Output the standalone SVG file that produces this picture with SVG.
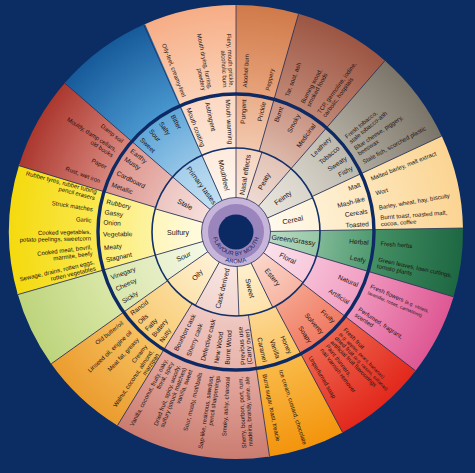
<svg xmlns="http://www.w3.org/2000/svg" width="475" height="473" viewBox="0 0 475 473">
<defs>
<style>
text{font-family:"Liberation Sans",Arial,sans-serif;fill:#1e1210}
.o{font-size:6px}.m{font-size:6.6px}.i{font-size:7.1px;text-anchor:middle}
.or{text-anchor:start}.ol{text-anchor:end}.mr{text-anchor:end}.ml{text-anchor:start}
.s{font-size:4.8px}
.ring{fill:none;stroke-width:143}.iring{fill:none;stroke-width:54}
.dv{stroke:#2b3158;stroke-width:0.8}
.hub{font-size:5.8px;fill:#14204f;letter-spacing:0.2px}
</style>
<radialGradient id="g-mouth" gradientUnits="userSpaceOnUse" cx="236" cy="232" r="227"><stop offset="0.13" stop-color="#fef6ef"/><stop offset="0.37" stop-color="#fdebdd"/><stop offset="0.372" stop-color="#fde6d6"/><stop offset="0.605" stop-color="#fcd8c2"/><stop offset="0.61" stop-color="#fbd2b7"/><stop offset="1" stop-color="#f6ad86"/></radialGradient>
<radialGradient id="g-nasal" gradientUnits="userSpaceOnUse" cx="236" cy="232" r="227"><stop offset="0.13" stop-color="#f9e7da"/><stop offset="0.37" stop-color="#f5d3be"/><stop offset="0.372" stop-color="#f2c8ae"/><stop offset="0.605" stop-color="#eaae8a"/><stop offset="0.61" stop-color="#e8a37b"/><stop offset="1" stop-color="#d07a4a"/></radialGradient>
<radialGradient id="g-peaty" gradientUnits="userSpaceOnUse" cx="236" cy="232" r="227"><stop offset="0.13" stop-color="#efdcd4"/><stop offset="0.37" stop-color="#e3c3b6"/><stop offset="0.372" stop-color="#dcb8a9"/><stop offset="0.605" stop-color="#c99383"/><stop offset="0.61" stop-color="#c18876"/><stop offset="1" stop-color="#9c5643"/></radialGradient>
<radialGradient id="g-feinty" gradientUnits="userSpaceOnUse" cx="236" cy="232" r="227"><stop offset="0.13" stop-color="#e9e6de"/><stop offset="0.37" stop-color="#d9d5cb"/><stop offset="0.372" stop-color="#d3cfc4"/><stop offset="0.605" stop-color="#bdb8ad"/><stop offset="0.61" stop-color="#b0ab9f"/><stop offset="1" stop-color="#7b7468"/></radialGradient>
<radialGradient id="g-cereal" gradientUnits="userSpaceOnUse" cx="236" cy="232" r="227"><stop offset="0.13" stop-color="#fffaef"/><stop offset="0.37" stop-color="#fef3da"/><stop offset="0.372" stop-color="#fef0d2"/><stop offset="0.605" stop-color="#fde7bf"/><stop offset="0.61" stop-color="#fde5b8"/><stop offset="1" stop-color="#fbd492"/></radialGradient>
<radialGradient id="g-green" gradientUnits="userSpaceOnUse" cx="236" cy="232" r="227"><stop offset="0.13" stop-color="#bcdcc6"/><stop offset="0.37" stop-color="#96c7a5"/><stop offset="0.372" stop-color="#7fb895"/><stop offset="0.605" stop-color="#4f9a70"/><stop offset="0.61" stop-color="#459064"/><stop offset="1" stop-color="#1d6742"/></radialGradient>
<radialGradient id="g-floral" gradientUnits="userSpaceOnUse" cx="236" cy="232" r="227"><stop offset="0.13" stop-color="#fbe3ed"/><stop offset="0.37" stop-color="#f8c9dc"/><stop offset="0.372" stop-color="#f6bcd5"/><stop offset="0.605" stop-color="#f19fc3"/><stop offset="0.61" stop-color="#ef95bc"/><stop offset="1" stop-color="#de5893"/></radialGradient>
<radialGradient id="g-estery" gradientUnits="userSpaceOnUse" cx="236" cy="232" r="227"><stop offset="0.13" stop-color="#fbd9cd"/><stop offset="0.37" stop-color="#f7b5a3"/><stop offset="0.372" stop-color="#f5a08a"/><stop offset="0.605" stop-color="#f07a62"/><stop offset="0.61" stop-color="#ee654f"/><stop offset="1" stop-color="#e2281c"/></radialGradient>
<radialGradient id="g-sweet" gradientUnits="userSpaceOnUse" cx="236" cy="232" r="227"><stop offset="0.13" stop-color="#fef1d2"/><stop offset="0.37" stop-color="#fde1a8"/><stop offset="0.372" stop-color="#fcd690"/><stop offset="0.605" stop-color="#fbc35e"/><stop offset="0.61" stop-color="#f9ba48"/><stop offset="1" stop-color="#f3940c"/></radialGradient>
<radialGradient id="g-cask" gradientUnits="userSpaceOnUse" cx="236" cy="232" r="227"><stop offset="0.13" stop-color="#f8e7e3"/><stop offset="0.37" stop-color="#f2d4ce"/><stop offset="0.372" stop-color="#efc9c2"/><stop offset="0.605" stop-color="#e8b3aa"/><stop offset="0.61" stop-color="#e5aba2"/><stop offset="1" stop-color="#cb7c70"/></radialGradient>
<radialGradient id="g-oily" gradientUnits="userSpaceOnUse" cx="236" cy="232" r="227"><stop offset="0.13" stop-color="#fef2d8"/><stop offset="0.37" stop-color="#fce3ac"/><stop offset="0.372" stop-color="#fbdb98"/><stop offset="0.605" stop-color="#f8ca72"/><stop offset="0.61" stop-color="#f6c161"/><stop offset="1" stop-color="#eb9c2e"/></radialGradient>
<radialGradient id="g-sour" gradientUnits="userSpaceOnUse" cx="236" cy="232" r="227"><stop offset="0.13" stop-color="#f5f9e8"/><stop offset="0.37" stop-color="#e9f1ce"/><stop offset="0.372" stop-color="#e5eec4"/><stop offset="0.605" stop-color="#d9e6ab"/><stop offset="0.61" stop-color="#d9e7a6"/><stop offset="1" stop-color="#bdd47c"/></radialGradient>
<radialGradient id="g-sulf" gradientUnits="userSpaceOnUse" cx="236" cy="232" r="227"><stop offset="0.13" stop-color="#fffbe2"/><stop offset="0.37" stop-color="#fef6ba"/><stop offset="0.372" stop-color="#fdf3a2"/><stop offset="0.605" stop-color="#fbec6c"/><stop offset="0.61" stop-color="#fbe850"/><stop offset="1" stop-color="#f4da0e"/></radialGradient>
<radialGradient id="g-stale" gradientUnits="userSpaceOnUse" cx="236" cy="232" r="227"><stop offset="0.13" stop-color="#f7e0dd"/><stop offset="0.37" stop-color="#ecc5c0"/><stop offset="0.372" stop-color="#e8b5af"/><stop offset="0.605" stop-color="#dc948c"/><stop offset="0.61" stop-color="#d8867d"/><stop offset="1" stop-color="#ab382f"/></radialGradient>
<radialGradient id="g-prim" gradientUnits="userSpaceOnUse" cx="236" cy="232" r="227"><stop offset="0.13" stop-color="#c5e1f3"/><stop offset="0.37" stop-color="#a4ceea"/><stop offset="0.372" stop-color="#92c4e6"/><stop offset="0.605" stop-color="#5fa6d8"/><stop offset="0.61" stop-color="#4997cf"/><stop offset="1" stop-color="#165a9a"/></radialGradient>
<path id="arcF" d="M212.5,232 A23.5,23.5 0 0 0 259.5,232"/>
<path id="arcA" d="M204.8,232 A31.2,31.2 0 0 0 267.2,232"/>
</defs>
<rect width="475" height="473" fill="#0b2d63"/>

<g id="mouthfeel">
<circle class="ring" cx="236" cy="232" r="155.5" pathLength="360" stroke="url(#g-mouth)" stroke-dasharray="24.4 360" transform="rotate(246 236 232)"/>
<circle class="iring" cx="236" cy="232" r="57" pathLength="360" stroke="url(#g-mouth)" stroke-dasharray="24.4 360" transform="rotate(246 236 232)"/>
<text class="o ol" x="91" y="234.1" transform="rotate(69 236 232)">Oily-feel, creamy-feel</text>
<text class="o ol" transform="rotate(78.5 236 232)"><tspan x="91" y="230.8">Mouth drying, furring,</tspan><tspan x="91" y="237.4">powdery</tspan></text>
<text class="o ol" transform="rotate(87 236 232)"><tspan x="91" y="230.8">Fiery, mouth prickle,</tspan><tspan x="91" y="237.4">alcoholic burn</tspan></text>
<text class="m ml" x="103" y="234.3" transform="rotate(69 236 232)">Mouth coating</text>
<text class="m ml" x="103" y="234.3" transform="rotate(77.5 236 232)">Astringent</text>
<text class="m ml" x="103" y="234.3" transform="rotate(86.5 236 232)">Mouth warming</text>
<text class="i" x="178" y="234.5" transform="rotate(78 236 232)">Mouthfeel</text>
</g>

<g id="nasal-effects">
<circle class="ring" cx="236" cy="232" r="155.5" pathLength="360" stroke="url(#g-nasal)" stroke-dasharray="16.4 360" transform="rotate(270 236 232)"/>
<circle class="iring" cx="236" cy="232" r="57" pathLength="360" stroke="url(#g-nasal)" stroke-dasharray="18.4 360" transform="rotate(270 236 232)"/>
<text class="o or" x="381" y="234.1" transform="rotate(-86.5 236 232)">Alcohol burn</text>
<text class="o or" x="381" y="234.1" transform="rotate(-77.5 236 232)">Peppery</text>
<text class="m mr" x="369" y="234.3" transform="rotate(-86.5 236 232)">Pungent</text>
<text class="m mr" x="369" y="234.3" transform="rotate(-78 236 232)">Prickle</text>
<text class="i" x="294" y="234.5" transform="rotate(-81 236 232)">Nasal effects</text>
</g>

<g id="peaty">
<circle class="ring" cx="236" cy="232" r="155.5" pathLength="360" stroke="url(#g-peaty)" stroke-dasharray="25.4 360" transform="rotate(286 236 232)"/>
<circle class="iring" cx="236" cy="232" r="57" pathLength="360" stroke="url(#g-peaty)" stroke-dasharray="23.4 360" transform="rotate(288 236 232)"/>
<text class="o or" x="381" y="234.1" transform="rotate(-69.5 236 232)">Tar, soot, ash</text>
<text class="o or" transform="rotate(-61.5 236 232)"><tspan x="381" y="230.8">Burning wood,</tspan><tspan x="381" y="237.4">smoked foods</tspan></text>
<text class="o or" transform="rotate(-54 236 232)"><tspan x="381" y="230.8">TCP, germoline, iodine,</tspan><tspan x="381" y="237.4">carbolic, hospitals</tspan></text>
<text class="m mr" x="369" y="234.3" transform="rotate(-70 236 232)">Burnt</text>
<text class="m mr" x="369" y="234.3" transform="rotate(-62 236 232)">Smoky</text>
<text class="m mr" x="369" y="234.3" transform="rotate(-54 236 232)">Medicinal</text>
<text class="i" x="294" y="234.5" transform="rotate(-61 236 232)">Peaty</text>
</g>

<g id="feinty">
<circle class="ring" cx="236" cy="232" r="155.5" pathLength="360" stroke="url(#g-feinty)" stroke-dasharray="24.4 360" transform="rotate(311 236 232)"/>
<circle class="iring" cx="236" cy="232" r="57" pathLength="360" stroke="url(#g-feinty)" stroke-dasharray="25.4 360" transform="rotate(311 236 232)"/>
<text class="o or" transform="rotate(-39.5 236 232)"><tspan x="381" y="230.8">Fresh tobacco,</tspan><tspan x="381" y="237.4">stale tobacco-ash</tspan></text>
<text class="o or" transform="rotate(-33.8 236 232)"><tspan x="381" y="230.8">Blue cheese, piggery,</tspan><tspan x="381" y="237.4">beeswax</tspan></text>
<text class="o or" x="381" y="234.1" transform="rotate(-28.8 236 232)">Stale fish, scorched plastic</text>
<text class="m mr" x="369" y="234.3" transform="rotate(-45 236 232)">Leathery</text>
<text class="m mr" x="369" y="234.3" transform="rotate(-39.5 236 232)">Tobacco</text>
<text class="m mr" x="369" y="234.3" transform="rotate(-34 236 232)">Sweaty</text>
<text class="m mr" x="369" y="234.3" transform="rotate(-29 236 232)">Fishy</text>
<text class="i" x="294" y="234.5" transform="rotate(-36 236 232)">Feinty</text>
</g>

<g id="cereal">
<circle class="ring" cx="236" cy="232" r="155.5" pathLength="360" stroke="url(#g-cereal)" stroke-dasharray="24.4 360" transform="rotate(335 236 232)"/>
<circle class="iring" cx="236" cy="232" r="57" pathLength="360" stroke="url(#g-cereal)" stroke-dasharray="23.4 360" transform="rotate(336 236 232)"/>
<text class="o or" x="381" y="234.1" transform="rotate(-21.5 236 232)">Malted barley, malt extract</text>
<text class="o or" x="381" y="234.1" transform="rotate(-15.5 236 232)">Wort</text>
<text class="o or" x="381" y="234.1" transform="rotate(-9.7 236 232)">Barley, wheat, hay, biscuity</text>
<text class="o or" transform="rotate(-4.4 236 232)"><tspan x="381" y="230.8">Burnt toast, roasted malt,</tspan><tspan x="381" y="237.4">cocoa, coffee</tspan></text>
<text class="m mr" x="369" y="234.3" transform="rotate(-21 236 232)">Malt</text>
<text class="m mr" x="369" y="234.3" transform="rotate(-14.5 236 232)">Mash-like</text>
<text class="m mr" x="369" y="234.3" transform="rotate(-9 236 232)">Cereals</text>
<text class="m mr" x="369" y="234.3" transform="rotate(-3.5 236 232)">Toasted</text>
<text class="i" x="294" y="234.5" transform="rotate(-12 236 232)">Cereal</text>
</g>

<g id="green-grassy">
<circle class="ring" cx="236" cy="232" r="155.5" pathLength="360" stroke="url(#g-green)" stroke-dasharray="18 360" transform="rotate(359 236 232)"/>
<circle class="iring" cx="236" cy="232" r="57" pathLength="360" stroke="url(#g-green)" stroke-dasharray="18.4 360" transform="rotate(359 236 232)"/>
<text class="o or" x="381" y="234.1" transform="rotate(4.5 236 232)">Fresh herbs</text>
<text class="o or" transform="rotate(12.2 236 232)"><tspan x="381" y="230.8">Green leaves, lawn cuttings,</tspan><tspan x="381" y="237.4">tomato plants</tspan></text>
<text class="m mr" x="369" y="234.3" transform="rotate(4.6 236 232)">Herbal</text>
<text class="m mr" x="369" y="234.3" transform="rotate(12.5 236 232)">Leafy</text>
<text class="i" x="294" y="234.5" transform="rotate(8 236 232)">Green/Grassy</text>
</g>

<g id="floral">
<circle class="ring" cx="236" cy="232" r="155.5" pathLength="360" stroke="url(#g-floral)" stroke-dasharray="21.5 360" transform="rotate(16.6 236 232)"/>
<circle class="iring" cx="236" cy="232" r="57" pathLength="360" stroke="url(#g-floral)" stroke-dasharray="20.4 360" transform="rotate(17 236 232)"/>
<text class="o or" transform="rotate(23.2 236 232)"><tspan x="381" y="230.8">Fresh flowers <tspan class="s">(e.g. violets,</tspan></tspan><tspan x="381" y="237.4" class="s">lavender, roses, carnations)</tspan></text>
<text class="o or" transform="rotate(33.3 236 232)"><tspan x="381" y="230.8">Perfumed, fragrant,</tspan><tspan x="381" y="237.4">scented</tspan></text>
<text class="m mr" x="369" y="234.3" transform="rotate(23.5 236 232)">Natural</text>
<text class="m mr" x="369" y="234.3" transform="rotate(32 236 232)">Artificial</text>
<text class="i" x="294" y="234.5" transform="rotate(27 236 232)">Floral</text>
</g>

<g id="estery">
<circle class="ring" cx="236" cy="232" r="155.5" pathLength="360" stroke="url(#g-estery)" stroke-dasharray="24.7 360" transform="rotate(37.7 236 232)"/>
<circle class="iring" cx="236" cy="232" r="57" pathLength="360" stroke="url(#g-estery)" stroke-dasharray="27.4 360" transform="rotate(37 236 232)"/>
<text class="o or" transform="rotate(45.3 236 232)"><tspan x="381" y="225.1">Fresh fruit</tspan><tspan x="381" y="231.1" class="s">(e.g. apples, pears, bananas)</tspan><tspan x="381" y="237.1">dried fruit <tspan class="s">(e.g. raisins, sultanas)</tspan></tspan><tspan x="381" y="243.1">artificial fruit flavourings</tspan></text>
<text class="o or" transform="rotate(52.5 236 232)"><tspan x="381" y="230.8">Paint thinners,</tspan><tspan x="381" y="237.4">nail varnish remover</tspan></text>
<text class="o or" x="381" y="234.1" transform="rotate(59.3 236 232)">Unperfumed soap</text>
<text class="m mr" x="369" y="234.3" transform="rotate(42.5 236 232)">Fruity</text>
<text class="m mr" x="369" y="234.3" transform="rotate(49.5 236 232)">Solventy</text>
<text class="m mr" x="369" y="234.3" transform="rotate(56 236 232)">Soapy</text>
<text class="i" x="294" y="234.5" transform="rotate(51 236 232)">Estery</text>
</g>

<g id="sweet">
<circle class="ring" cx="236" cy="232" r="155.5" pathLength="360" stroke="url(#g-sweet)" stroke-dasharray="19.9 360" transform="rotate(62 236 232)"/>
<circle class="iring" cx="236" cy="232" r="57" pathLength="360" stroke="url(#g-sweet)" stroke-dasharray="24.4 360" transform="rotate(64 236 232)"/>
<text class="o or" x="381" y="234.1" transform="rotate(72 236 232)">Ice cream, custard, chocolate</text>
<text class="o or" x="381" y="234.1" transform="rotate(78.6 236 232)">Burnt sugar, toast, treacle</text>
<text class="m mr" x="369" y="234.3" transform="rotate(66 236 232)">Honey</text>
<text class="m mr" x="369" y="234.3" transform="rotate(71.6 236 232)">Vanilla</text>
<text class="m mr" x="369" y="234.3" transform="rotate(77.5 236 232)">Caramel</text>
<text class="i" x="294" y="234.5" transform="rotate(76 236 232)">Sweet</text>
</g>

<g id="cask-derived">
<circle class="ring" cx="236" cy="232" r="155.5" pathLength="360" stroke="url(#g-cask)" stroke-dasharray="40.4 360" transform="rotate(81.5 236 232)"/>
<circle class="iring" cx="236" cy="232" r="57" pathLength="360" stroke="url(#g-cask)" stroke-dasharray="31.4 360" transform="rotate(88 236 232)"/>
<text class="o ol" transform="rotate(267 236 232)"><tspan x="91" y="230.8">Sherry, bourbon, port, rum,</tspan><tspan x="91" y="237.4">madeira, brandy, wine, ale</tspan></text>
<text class="o ol" x="91" y="234.1" transform="rotate(273.3 236 232)">Smoky, ashy, charcoal</text>
<text class="o ol" transform="rotate(278.5 236 232)"><tspan x="91" y="230.8">Sap-like, resinous, sawdust,</tspan><tspan x="91" y="237.4">pencil sharpenings</tspan></text>
<text class="o ol" x="91" y="234.1" transform="rotate(284.3 236 232)">Sour, musty, mothballs</text>
<text class="o ol" transform="rotate(290.8 236 232)"><tspan x="91" y="227.5">Dried fruit, spicy, woody,</tspan><tspan x="91" y="234.1">sulfury (struck matches)</tspan><tspan x="91" y="240.7">vanilla, sweet</tspan></text>
<text class="o ol" transform="rotate(297.5 236 232)"><tspan x="91" y="230.8">Vanilla, coconut, fruity, oaky,</tspan><tspan x="91" y="237.4">floral, spicy</tspan></text>
<text class="m ml" transform="rotate(265.5 236 232)"><tspan x="103" y="231">Previous use</tspan><tspan x="103" y="237.6">(Carry over)</tspan></text>
<text class="m ml" x="103" y="234.3" transform="rotate(273.8 236 232)">Burnt Wood</text>
<text class="m ml" x="103" y="234.3" transform="rotate(278.6 236 232)">New Wood</text>
<text class="m ml" x="103" y="234.3" transform="rotate(284.5 236 232)">Defective cask</text>
<text class="m ml" x="103" y="234.3" transform="rotate(291 236 232)">Sherry cask</text>
<text class="m ml" x="103" y="234.3" transform="rotate(297 236 232)">Bourbon cask</text>
<text class="i" x="178" y="234.5" transform="rotate(283.5 236 232)">Cask derived</text>
</g>

<g id="oily">
<circle class="ring" cx="236" cy="232" r="155.5" pathLength="360" stroke="url(#g-oily)" stroke-dasharray="23.4 360" transform="rotate(121.5 236 232)"/>
<circle class="iring" cx="236" cy="232" r="57" pathLength="360" stroke="url(#g-oily)" stroke-dasharray="26.4 360" transform="rotate(119 236 232)"/>
<text class="o ol" x="91" y="234.1" transform="rotate(321.5 236 232)">Old butter/oil</text>
<text class="o ol" x="91" y="234.1" transform="rotate(316.6 236 232)">Linseed oil, engine oil</text>
<text class="o ol" x="91" y="234.1" transform="rotate(312.6 236 232)">Meat fat, greasy</text>
<text class="o ol" x="91" y="234.1" transform="rotate(308.4 236 232)">Creamy</text>
<text class="o ol" transform="rotate(304 236 232)"><tspan x="91" y="230.8">Walnut, coconut, almond,</tspan><tspan x="91" y="237.4">marzipan</tspan></text>
<text class="m ml" x="103" y="234.3" transform="rotate(322 236 232)">Rancid</text>
<text class="m ml" x="103" y="234.3" transform="rotate(317 236 232)">Oils</text>
<text class="m ml" x="103" y="234.3" transform="rotate(312.5 236 232)">Fatty</text>
<text class="m ml" x="103" y="234.3" transform="rotate(308.5 236 232)">Buttery</text>
<text class="m ml" x="103" y="234.3" transform="rotate(304.4 236 232)">Nutty</text>
<text class="i" x="178" y="234.5" transform="rotate(312 236 232)">Oily</text>
</g>

<g id="sour">
<circle class="ring" cx="236" cy="232" r="155.5" pathLength="360" stroke="url(#g-sour)" stroke-dasharray="19.9 360" transform="rotate(144.5 236 232)"/>
<circle class="iring" cx="236" cy="232" r="57" pathLength="360" stroke="url(#g-sour)" stroke-dasharray="19.4 360" transform="rotate(145 236 232)"/>
<text class="m ml" x="103" y="234.3" transform="rotate(340 236 232)">Vinegary</text>
<text class="m ml" x="103" y="234.3" transform="rotate(334.5 236 232)">Cheesy</text>
<text class="m ml" x="103" y="234.3" transform="rotate(328.5 236 232)">Sickly</text>
<text class="i" x="178" y="234.5" transform="rotate(335 236 232)">Sour</text>
</g>

<g id="sulfury">
<circle class="ring" cx="236" cy="232" r="155.5" pathLength="360" stroke="url(#g-sulf)" stroke-dasharray="33.4 360" transform="rotate(164 236 232)"/>
<circle class="iring" cx="236" cy="232" r="57" pathLength="360" stroke="url(#g-sulf)" stroke-dasharray="32.4 360" transform="rotate(164 236 232)"/>
<text class="o ol" transform="rotate(14.8 236 232)"><tspan x="91" y="230.8">Rubber tyres, rubber tubing</tspan><tspan x="91" y="237.4">pencil erasers</tspan></text>
<text class="o ol" x="91" y="234.1" transform="rotate(9 236 232)">Struck matches</text>
<text class="o ol" x="91" y="234.1" transform="rotate(4.6 236 232)">Garlic</text>
<text class="o ol" transform="rotate(-1.2 236 232)"><tspan x="91" y="230.8">Cooked vegetables,</tspan><tspan x="91" y="237.4">potato peelings, sweetcorn</tspan></text>
<text class="o ol" transform="rotate(-7.2 236 232)"><tspan x="91" y="230.8">Cooked meat, bovril,</tspan><tspan x="91" y="237.4">marmite, beefy</tspan></text>
<text class="o ol" transform="rotate(-13.2 236 232)"><tspan x="91" y="230.8">Sewage, drains, rotten eggs,</tspan><tspan x="91" y="237.4">rotten vegetables</tspan></text>
<text class="m ml" x="103" y="234.3" transform="rotate(13.3 236 232)">Rubbery</text>
<text class="m ml" x="103" y="234.3" transform="rotate(8.7 236 232)">Gassy</text>
<text class="m ml" x="103" y="234.3" transform="rotate(4.2 236 232)">Onion</text>
<text class="m ml" x="103" y="234.3" transform="rotate(-1 236 232)">Vegetable</text>
<text class="m ml" x="103" y="234.3" transform="rotate(-6.9 236 232)">Meaty</text>
<text class="m ml" x="103" y="234.3" transform="rotate(-12.1 236 232)">Stagnant</text>
<text class="i" x="178" y="234.5" transform="rotate(0 236 232)">Sulfury</text>
</g>

<g id="stale">
<circle class="ring" cx="236" cy="232" r="155.5" pathLength="360" stroke="url(#g-stale)" stroke-dasharray="24.4 360" transform="rotate(197 236 232)"/>
<circle class="iring" cx="236" cy="232" r="57" pathLength="360" stroke="url(#g-stale)" stroke-dasharray="25.4 360" transform="rotate(196 236 232)"/>
<text class="o ol" x="91" y="234.1" transform="rotate(38.5 236 232)">Damp soil</text>
<text class="o ol" transform="rotate(33 236 232)"><tspan x="91" y="230.8">Mouldy, damp cellars,</tspan><tspan x="91" y="237.4">old books</tspan></text>
<text class="o ol" x="91" y="234.1" transform="rotate(26.5 236 232)">Paper</text>
<text class="o ol" x="91" y="234.1" transform="rotate(20.5 236 232)">Rust, wet iron</text>
<text class="m ml" x="103" y="234.3" transform="rotate(38 236 232)">Earthy</text>
<text class="m ml" x="103" y="234.3" transform="rotate(33.5 236 232)">Musty</text>
<text class="m ml" x="103" y="234.3" transform="rotate(26.5 236 232)">Cardboard</text>
<text class="m ml" x="103" y="234.3" transform="rotate(21 236 232)">Metallic</text>
<text class="i" x="178" y="234.5" transform="rotate(28.5 236 232)">Stale</text>
</g>

<g id="primary-tastes">
<circle class="ring" cx="236" cy="232" r="155.5" pathLength="360" stroke="url(#g-prim)" stroke-dasharray="25.4 360" transform="rotate(221 236 232)"/>
<circle class="iring" cx="236" cy="232" r="57" pathLength="360" stroke="url(#g-prim)" stroke-dasharray="25.4 360" transform="rotate(221 236 232)"/>
<text class="m ml" x="103" y="234.3" transform="rotate(61.5 236 232)">Bitter</text>
<text class="m ml" x="103" y="234.3" transform="rotate(55.5 236 232)">Salty</text>
<text class="m ml" x="103" y="234.3" transform="rotate(50 236 232)">Sour</text>
<text class="m ml" x="103" y="234.3" transform="rotate(44.5 236 232)">Sweet</text>
<text class="i" x="178" y="234.5" transform="rotate(53.5 236 232)">Primary tastes</text>
</g>

<g id="dividers">
<g class="dv">
<line x1="320" y1="232" x2="463" y2="232" transform="rotate(246 236 232)"/>
<line x1="320" y1="232" x2="463" y2="232" transform="rotate(270 236 232)"/>
<line x1="320" y1="232" x2="463" y2="232" transform="rotate(286 236 232)"/>
<line x1="320" y1="232" x2="463" y2="232" transform="rotate(311 236 232)"/>
<line x1="320" y1="232" x2="463" y2="232" transform="rotate(335 236 232)"/>
<line x1="320" y1="232" x2="463" y2="232" transform="rotate(359 236 232)"/>
<line x1="320" y1="232" x2="463" y2="232" transform="rotate(16.6 236 232)"/>
<line x1="320" y1="232" x2="463" y2="232" transform="rotate(37.7 236 232)"/>
<line x1="320" y1="232" x2="463" y2="232" transform="rotate(62 236 232)"/>
<line x1="320" y1="232" x2="463" y2="232" transform="rotate(81.5 236 232)"/>
<line x1="320" y1="232" x2="463" y2="232" transform="rotate(121.5 236 232)"/>
<line x1="320" y1="232" x2="463" y2="232" transform="rotate(144.5 236 232)"/>
<line x1="320" y1="232" x2="463" y2="232" transform="rotate(164 236 232)"/>
<line x1="320" y1="232" x2="463" y2="232" transform="rotate(197 236 232)"/>
<line x1="320" y1="232" x2="463" y2="232" transform="rotate(221 236 232)"/>
<line x1="268" y1="232" x2="320" y2="232" transform="rotate(246 236 232)"/>
<line x1="268" y1="232" x2="320" y2="232" transform="rotate(270 236 232)"/>
<line x1="268" y1="232" x2="320" y2="232" transform="rotate(288 236 232)"/>
<line x1="268" y1="232" x2="320" y2="232" transform="rotate(311 236 232)"/>
<line x1="268" y1="232" x2="320" y2="232" transform="rotate(336 236 232)"/>
<line x1="268" y1="232" x2="320" y2="232" transform="rotate(359 236 232)"/>
<line x1="268" y1="232" x2="320" y2="232" transform="rotate(17 236 232)"/>
<line x1="268" y1="232" x2="320" y2="232" transform="rotate(37 236 232)"/>
<line x1="268" y1="232" x2="320" y2="232" transform="rotate(64 236 232)"/>
<line x1="268" y1="232" x2="320" y2="232" transform="rotate(88 236 232)"/>
<line x1="268" y1="232" x2="320" y2="232" transform="rotate(119 236 232)"/>
<line x1="268" y1="232" x2="320" y2="232" transform="rotate(145 236 232)"/>
<line x1="268" y1="232" x2="320" y2="232" transform="rotate(164 236 232)"/>
<line x1="268" y1="232" x2="320" y2="232" transform="rotate(196 236 232)"/>
<line x1="268" y1="232" x2="320" y2="232" transform="rotate(221 236 232)"/>
</g>
<circle cx="236" cy="232" r="84" fill="none" stroke="#12306a" stroke-width="1.6"/>
<circle cx="236" cy="232" r="138" fill="none" stroke="#0e2a64" stroke-width="3.4"/>
</g>

<g id="hub">
<circle cx="236" cy="232" r="34.5" fill="#c7b5da" stroke="#2b3158" stroke-width="0.8"/>
<circle cx="236" cy="232" r="28" fill="#9b85bd"/>
<circle cx="236" cy="232" r="17.5" fill="#0b2a63"/>
<text class="hub"><textPath href="#arcF" startOffset="50%" text-anchor="middle">FLAVOUR BY MOUTH</textPath></text>
<text class="hub"><textPath href="#arcA" startOffset="50%" text-anchor="middle">AROMA</textPath></text>
</g>
</svg>
